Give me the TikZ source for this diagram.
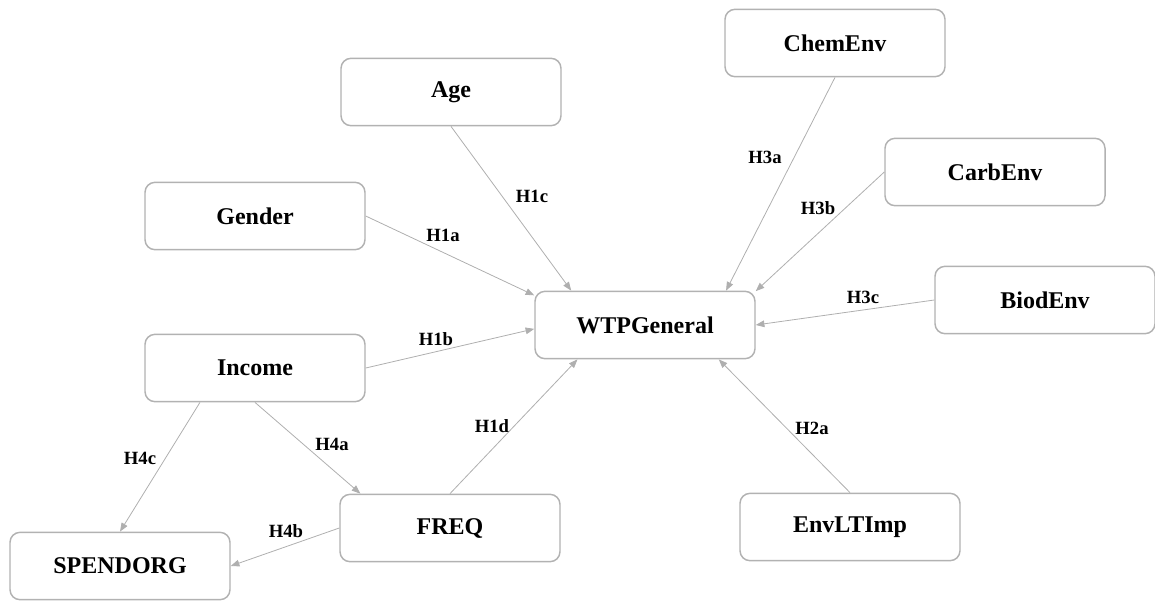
\documentclass[tikz,border=0pt]{standalone}
\usepackage{fontspec}
\setmainfont{Liberation Serif}
\usetikzlibrary{arrows.meta}
\definecolor{boxgray}{RGB}{178,178,178}
\definecolor{linegray}{RGB}{175,175,175}
\begin{document}
\begin{tikzpicture}[x=0.75pt,y=-0.75pt,
  vbox/.style={draw=boxgray,line width=1.1pt,rounded corners=7.5pt,fill=white,
    minimum width=165pt,minimum height=50.5pt,inner sep=0pt,
    font=\fontsize{18}{21}\selectfont\bfseries},
  conn/.style={draw=linegray,line width=0.6pt,
    -{Triangle[length=6.5pt,width=5pt,fill=linegray]}},
  hlab/.style={font=\fontsize{14}{16}\selectfont\bfseries,inner sep=0pt}]
\useasboundingbox (0,0) rectangle (1155,601);
\node[vbox] (age) at (451,92) {Age};
\node[vbox] (chem) at (835,43) {ChemEnv};
\node[vbox] (gender) at (255,216) {Gender};
\node[vbox] (carb) at (995,172) {CarbEnv};
\node[vbox] (wtp) at (645,325) {WTPGeneral};
\node[vbox] (biod) at (1045,300) {BiodEnv};
\node[vbox] (income) at (255,368) {Income};
\node[vbox] (freq) at (450,528) {FREQ};
\node[vbox] (envlt) at (850,527) {EnvLTImp};
\node[vbox] (spend) at (120,566) {SPENDORG};
\draw[conn] (gender.east) -- (wtp.165);
\draw[conn] (age.south) -- (wtp.155);
\draw[conn] (chem.south) -- (wtp.23);
\draw[conn] (carb.west) -- (wtp.17);
\draw[conn] (biod.west) -- (wtp.east);
\draw[conn] (income.east) -- (wtp.182);
\draw[conn] (freq.north) -- (wtp.207);
\draw[conn] (envlt.north) -- (wtp.335);
\draw[conn] (income.south) -- (freq.159);
\draw[conn] (income.212) -- (spend.north);
\draw[conn] (freq.west) -- (spend.east);
\node[hlab] (l1a) at (443,235) {H1a};
\node[hlab] (l1c) at (532,196) {H1c};
\node[hlab] (l3a) at (765,157) {H3a};
\node[hlab] (l3b) at (818,208) {H3b};
\node[hlab] (l3c) at (863,297) {H3c};
\node[hlab] (l1b) at (436,339) {H1b};
\node[hlab] (l1d) at (492,426) {H1d};
\node[hlab] (l2a) at (812,428) {H2a};
\node[hlab] (l4a) at (332,444) {H4a};
\node[hlab] (l4c) at (140,458) {H4c};
\node[hlab] (l4b) at (286,531) {H4b};
\end{tikzpicture}
\end{document}
